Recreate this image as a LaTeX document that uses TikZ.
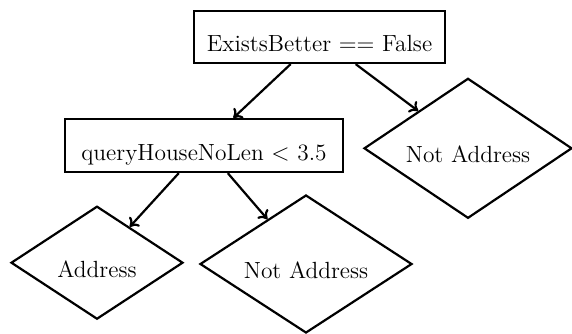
\documentclass[tikz,border=0pt]{standalone}
\usetikzlibrary{shapes.geometric,arrows.meta}
\begin{document}
\begin{tikzpicture}[x=0.5pt,y=-0.5pt,
  every node/.style={font=\fontsize{11.7}{14}\selectfont,
    text height=14.6pt, text depth=0pt, inner sep=0pt, draw, line width=1.1pt},
  testbox/.style={rectangle, minimum height=26pt},
  leafbox/.style={diamond, aspect=1.5},
  edge/.style={line width=1.1pt, -{To[length=4pt,width=7pt]}}]
  \useasboundingbox (0,0) rectangle (572,333);
  % decision nodes
  \node[testbox, minimum width=125.5pt] (root) at (319.5,37) {ExistsBetter == False};
  \node[testbox, minimum width=139pt, minimum height=26.5pt] (len) at (204,145.5) {queryHouseNoLen $<$ 3.5};
  % leaves
  \node[leafbox, minimum width=104pt, minimum height=70pt] (notR) at (468,148.3) {Not Address};
  \node[leafbox, minimum width=86pt, minimum height=56.5pt] (addr) at (97,262.7) {Address};
  \node[leafbox, minimum width=106pt, minimum height=69pt] (notL) at (306,264) {Not Address};
  % edges
  \draw[edge] (root) -- (len);
  \draw[edge] (root) -- (notR);
  \draw[edge] (len) -- (addr);
  \draw[edge] (len) -- (notL);
\end{tikzpicture}
\end{document}
